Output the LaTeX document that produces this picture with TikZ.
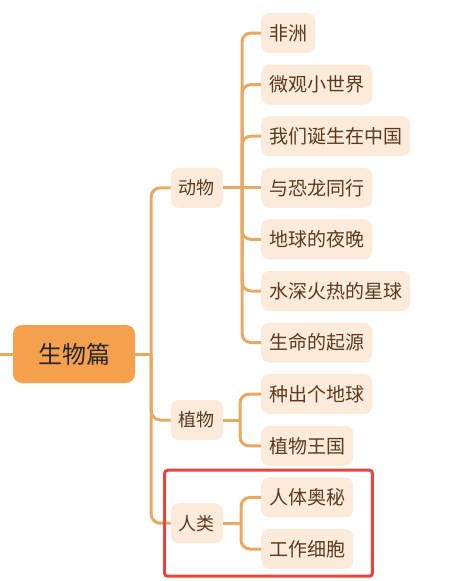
\documentclass[tikz,border=0pt]{standalone}
\usepackage{fontspec}
\setmainfont{Noto Sans CJK SC}
\usetikzlibrary{positioning, calc}
\definecolor{corange}{HTML}{F4A04C}
\definecolor{cpeach}{HTML}{FCEADA}
\definecolor{cline}{HTML}{E9A961}
\definecolor{cbrown}{HTML}{5A3B1E}
\definecolor{cred}{HTML}{E8453C}
\tikzset{
  every picture/.style={x=1pt, y=-1pt},
  rootbox/.style={fill=corange, rounded corners=9pt, minimum width=122pt, minimum height=58pt, font=\fontsize{24pt}{28pt}\selectfont, text=black!85},
  midbox/.style={fill=cpeach, rounded corners=8pt, minimum height=40pt, inner xsep=8pt, font=\fontsize{18pt}{22pt}\selectfont, text=cbrown},
  leaf/.style={fill=cpeach, rounded corners=8pt, minimum height=40pt, inner xsep=8pt, font=\fontsize{19pt}{23pt}\selectfont, text=cbrown, anchor=west},
  branch/.style={draw=cline, line width=3pt, rounded corners=9pt},
  frame/.style={draw=cred, line width=3pt, rounded corners=3pt},
}
\begin{document}
\begin{tikzpicture}[node distance=11.2pt]
  \useasboundingbox (0,0) rectangle (453,581);
  % leaves, top to bottom
  \node[leaf] (feizhou) at (261,33) {非洲};
  \node[leaf, below=of feizhou.south west, anchor=north west] (weiguan) {微观小世界};
  \node[leaf, below=of weiguan.south west, anchor=north west] (dansheng) {我们诞生在中国};
  \node[leaf, below=of dansheng.south west, anchor=north west] (konglong) {与恐龙同行};
  \node[leaf, below=of konglong.south west, anchor=north west] (yewan) {地球的夜晚};
  \node[leaf, below=of yewan.south west, anchor=north west] (xingqiu) {水深火热的星球};
  \node[leaf, below=of xingqiu.south west, anchor=north west] (qiyuan) {生命的起源};
  \node[leaf, below=of qiyuan.south west, anchor=north west] (zhongchu) {种出个地球};
  \node[leaf, below=of zhongchu.south west, anchor=north west] (wangguo) {植物王国};
  \node[leaf, below=of wangguo.south west, anchor=north west] (aomi) {人体奥秘};
  \node[leaf, below=of aomi.south west, anchor=north west] (xibao) {工作细胞};
  % middle level
  \node[midbox, anchor=east] (dongwu) at ($(feizhou.west)!.5!(qiyuan.west)+(-38,0)$) {动物};
  \node[midbox, anchor=east] (zhiwu) at ($(zhongchu.west)!.5!(wangguo.west)+(-38,0)$) {植物};
  \node[midbox, anchor=east] (renlei) at ($(aomi.west)!.5!(xibao.west)+(-38,0)$) {人类};
  % root
  \node[rootbox] (root) at (74,354) {生物篇};
  \coordinate (stub) at (0,354);
  \coordinate (rootfork) at ($(root.east)+(16,0)$);
  \coordinate (dfork) at ($(dongwu.east)+(19,0)$);
  \coordinate (zfork) at ($(zhiwu.east)+(17,0)$);
  \coordinate (rfork) at ($(renlei.east)+(18,0)$);
  % connectors
  \draw[branch] (stub) -- (root.west);
  \draw[branch] (root.east) -- (rootfork);
  \draw[branch] (rootfork) |- (dongwu.west);
  \draw[branch] (rootfork) |- (zhiwu.west);
  \draw[branch] (rootfork) |- (renlei.west);
  \draw[branch] (dongwu.east) -- (dfork);
  \draw[branch] (dfork) |- (feizhou.west);
  \draw[branch] (dfork) |- (weiguan.west);
  \draw[branch] (dfork) |- (dansheng.west);
  \draw[branch] (dfork) -- (konglong.west);
  \draw[branch] (dfork) |- (yewan.west);
  \draw[branch] (dfork) |- (xingqiu.west);
  \draw[branch] (dfork) |- (qiyuan.west);
  \draw[branch] (zhiwu.east) -- (zfork);
  \draw[branch] (zfork) |- (zhongchu.west);
  \draw[branch] (zfork) |- (wangguo.west);
  \draw[branch] (renlei.east) -- (rfork);
  \draw[branch] (rfork) |- (aomi.west);
  \draw[branch] (rfork) |- (xibao.west);
  % highlight
  \draw[frame] ($(renlei.west |- aomi.north)+(-6,-7)$) rectangle ($(xibao.south east)+(19,7)$);
\end{tikzpicture}
\end{document}
